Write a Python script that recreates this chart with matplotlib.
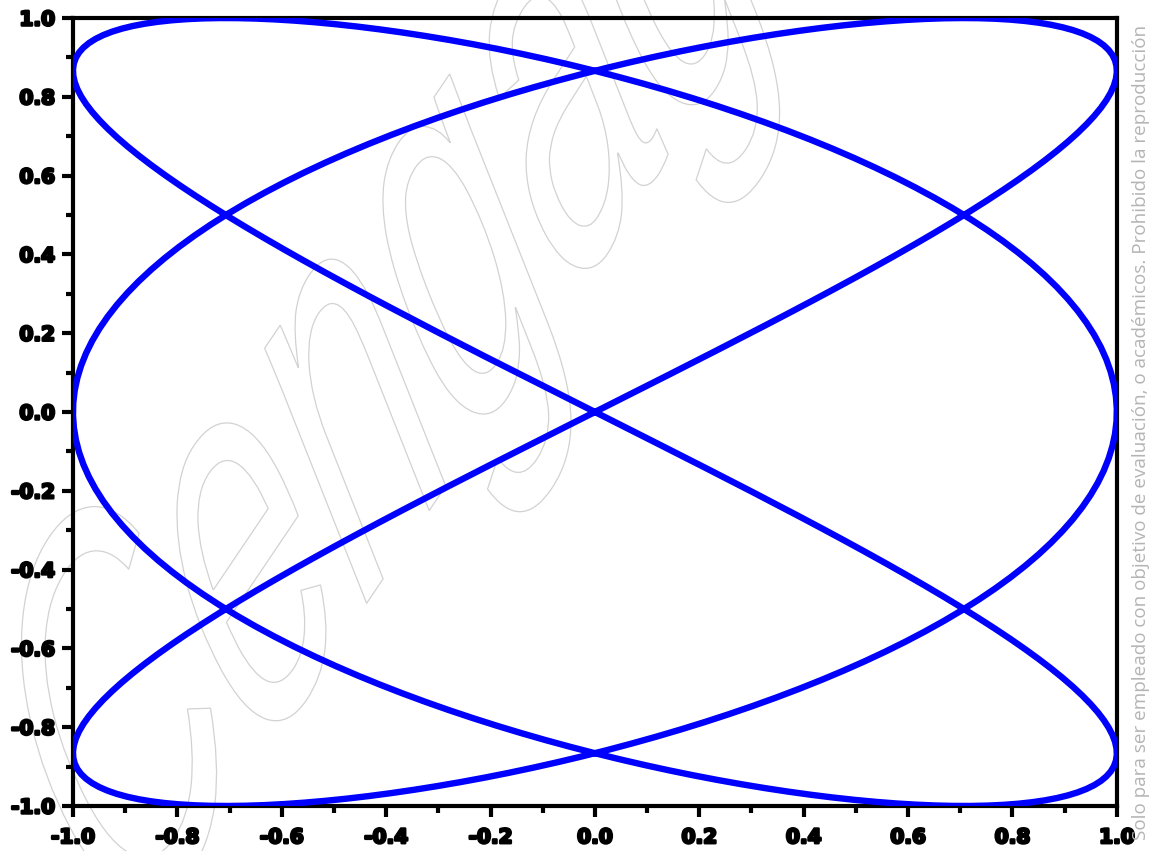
import numpy as np
import matplotlib
matplotlib.use("Agg")
import matplotlib.pyplot as plt
import matplotlib.patheffects as pe
from matplotlib.textpath import TextPath
from matplotlib.font_manager import FontProperties
from matplotlib.patches import PathPatch
from matplotlib.transforms import Affine2D, IdentityTransform

# Lissajous figure: x = sin(fx*t), y = sin(fy*t)
freq_x = 3
freq_y = 2
n_samples = 400

tick_values = [-1.0, -0.8, -0.6, -0.4, -0.2, 0.0, 0.2, 0.4, 0.6, 0.8, 1.0]
tick_labels = ["-1.0", "-0.8", "-0.6", "-0.4", "-0.2", "0.0",
               "0.2", "0.4", "0.6", "0.8", "1.0"]
minor_ticks = [-0.9, -0.7, -0.5, -0.3, -0.1, 0.1, 0.3, 0.5, 0.7, 0.9]

notice = ("Solo para ser empleado con objetivo de evaluación, o académicos. "
          "Prohibido la reproducción")
mark = "Cengage"

t = np.linspace(0, 2 * np.pi, n_samples)
x = np.sin(freq_x * t)
y = np.sin(freq_y * t)

fig = plt.figure(figsize=(11.49, 8.51), dpi=100)
ax = fig.add_axes([0.0635, 0.0529, 0.9085, 0.9259])
ax.patch.set_alpha(0)

# faint outlined watermark, tall sheared letters laid diagonally
tp = TextPath((0, 0), mark, size=430,
              prop=FontProperties(family="Liberation Sans", style="italic"))
bb = tp.get_extents()
wm_tf = (Affine2D()
         .translate(-(bb.x0 + bb.x1) / 2, -(bb.y0 + bb.y1) / 2)
         .scale(0.78, 1.0)
         .skew_deg(28, 0)
         .rotate_deg(56)
         .translate(450, 560))
wm = PathPatch(wm_tf.transform_path(tp), facecolor="none",
               edgecolor="#d2d2d2", linewidth=0.9,
               transform=IdentityTransform(), zorder=-5)
fig.patches.append(wm)

ax.plot(x, y, color="#0000ff", linewidth=4.6, solid_joinstyle="miter",
        zorder=3)

ax.set_xlim(-1, 1)
ax.set_ylim(-1, 1)

for s in ax.spines.values():
    s.set_linewidth(3.0)
    s.set_color("black")

ax.set_xticks(tick_values)
ax.set_yticks(tick_values)
ax.set_xticks(minor_ticks, minor=True)
ax.set_yticks(minor_ticks, minor=True)

lbl_fx = [pe.withStroke(linewidth=1.8, foreground="black")]
ax.set_xticklabels(tick_labels, fontsize=14.5, fontweight="bold",
                   family="DejaVu Sans", path_effects=lbl_fx)
ax.set_yticklabels(tick_labels, fontsize=14.5, fontweight="bold",
                   family="DejaVu Sans", path_effects=lbl_fx)

ax.tick_params(axis="x", which="major", direction="out", length=8, width=3,
               pad=8, top=False)
ax.tick_params(axis="y", which="major", direction="out", length=8, width=3,
               pad=5, right=False)
ax.tick_params(which="minor", direction="out", length=5, width=3,
               top=False, right=False)

fig.text(0.993, 0.013, notice, rotation=90, fontsize=13.6,
         family="Open Sans", color="#b4b4b4", ha="center", va="bottom")

fig.savefig("out.png", dpi=100)
